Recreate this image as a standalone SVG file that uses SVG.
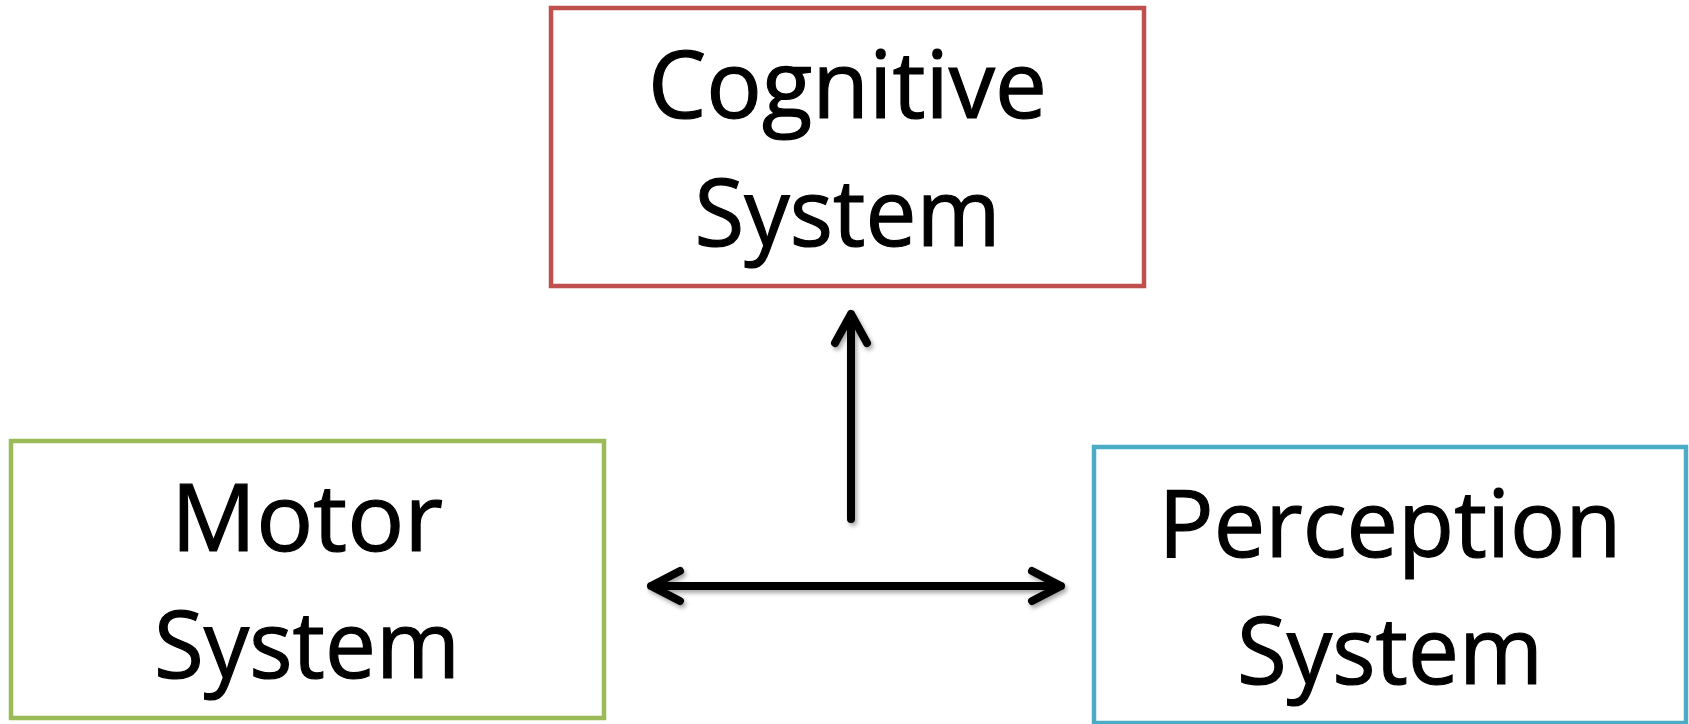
<svg xmlns="http://www.w3.org/2000/svg" width="1689" height="724" viewBox="0 0 1689 724">
<style>
.box{fill:#fff;stroke-width:4.5}
.lbl{font-family:"Open Sans","Noto Sans","Liberation Sans",sans-serif;font-size:94px;fill:#000;stroke:#000;stroke-width:1.2;text-anchor:middle}
.arr{fill:none;stroke:#000;stroke-width:8;stroke-linecap:round;stroke-linejoin:round}
</style>
<defs>
<filter id="sh" x="-20%" y="-20%" width="140%" height="140%">
<feDropShadow dx="2" dy="3" stdDeviation="2" flood-color="#000" flood-opacity="0.35"/>
</filter>
</defs>
<rect width="1689" height="724" fill="#fff"/>
<g id="cognitive">
<rect class="box" x="551" y="8" width="593" height="278" stroke="#C0504D"/>
<text class="lbl" x="847.5" y="118" textLength="399" lengthAdjust="spacingAndGlyphs">Cognitive</text>
<text class="lbl" x="847.5" y="246" textLength="306" lengthAdjust="spacingAndGlyphs">System</text>
</g>
<g id="motor">
<rect class="box" x="11" y="441" width="593" height="277" stroke="#9BBB59"/>
<text class="lbl" x="307" y="551" textLength="272" lengthAdjust="spacingAndGlyphs">Motor</text>
<text class="lbl" x="307" y="678" textLength="306" lengthAdjust="spacingAndGlyphs">System</text>
</g>
<g id="perception">
<rect class="box" x="1094" y="447" width="592" height="276" stroke="#4BACC6"/>
<text class="lbl" x="1390" y="557" textLength="463" lengthAdjust="spacingAndGlyphs">Perception</text>
<text class="lbl" x="1390" y="684" textLength="306" lengthAdjust="spacingAndGlyphs">System</text>
</g>
<g id="connectors" filter="url(#sh)">
<path class="arr" d="M851 519 V314 M835 343 L851 314 L867 343"/>
<path class="arr" d="M651 586 H1061 M680 571 L651 586 L680 601 M1032 571 L1061 586 L1032 601"/>
</g>
</svg>
